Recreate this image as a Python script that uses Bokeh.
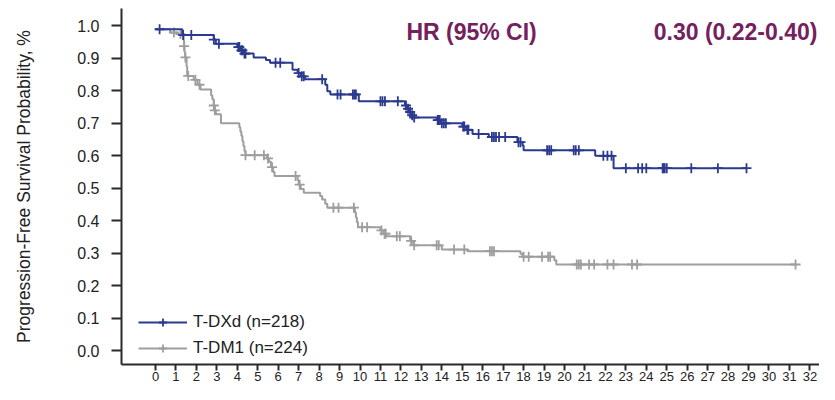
import numpy as np
from bokeh.plotting import figure
from bokeh.models import FixedTicker, NumeralTickFormatter, Label, Legend, LegendItem
from bokeh.embed import file_html
from bokeh.resources import INLINE

# ---------------- data ----------------
# T-DXd: step times (months) and survival level after each step
dxd_times = [0, 1.31, 2.85, 2.95, 4.0, 4.15, 4.3, 4.8, 5.4, 5.6, 6.7, 6.95, 7.1, 7.3,
             8.3, 8.4, 8.55, 9.94, 12.2, 12.3, 12.4, 12.5, 12.6, 13.75, 13.95, 15.0,
             15.2, 15.5, 16.3, 17.7, 17.95, 18.0, 21.5, 22.4]
dxd_surv = [0.99, 0.972, 0.958, 0.945, 0.935, 0.925, 0.915, 0.903, 0.895, 0.887, 0.865,
            0.855, 0.845, 0.836, 0.819, 0.799, 0.789, 0.768, 0.755, 0.745, 0.735, 0.725,
            0.718, 0.71, 0.70, 0.69, 0.68, 0.667, 0.658, 0.642, 0.632, 0.617, 0.600, 0.562]
dxd_censor = [0.2, 1.35, 1.75, 2.85, 3.1, 4.05, 4.1, 4.2, 4.25, 4.35, 4.4, 5.87, 6.1,
              7.0, 7.15, 7.25, 8.15, 8.9, 9.05, 9.65, 9.72, 9.8, 11.0, 11.1, 11.22, 11.85,
              12.25, 12.35, 12.45, 12.55, 12.65, 13.8, 13.85, 13.9, 14.0, 14.1, 14.2,
              15.05, 15.1, 15.25, 15.3, 15.8, 16.45, 16.55, 16.65, 16.8, 17.1, 17.75,
              17.85, 19.15, 19.25, 19.35, 20.45, 20.55, 20.7, 21.9, 22.1, 22.3, 23.0,
              23.6, 23.8, 24.0, 24.8, 24.85, 24.9, 25.0, 26.2, 27.5, 28.9]

# T-DM1
dm1_times = [0, 0.72, 1.05, 1.3, 1.38, 1.40, 1.42, 1.45, 1.52, 1.55, 1.87, 2.05, 2.2,
             2.72, 2.78, 2.85, 2.9, 2.95, 3.2, 4.1, 4.15, 4.2, 4.25, 4.3, 4.35, 4.4,
             5.45, 5.55, 5.65, 5.75, 5.82, 6.95, 7.0, 7.1, 7.25, 8.05, 8.15, 8.3, 8.4,
             9.75, 9.8, 9.85, 9.9, 11.0, 11.15, 11.3, 12.45, 12.6, 14.0, 15.25, 17.85,
             17.95, 19.5, 19.6]
dm1_surv = [0.99, 0.98, 0.975, 0.97, 0.955, 0.938, 0.92, 0.903, 0.875, 0.846, 0.834,
            0.819, 0.804, 0.786, 0.774, 0.755, 0.74, 0.728, 0.70, 0.688, 0.675, 0.662,
            0.645, 0.63, 0.615, 0.602, 0.592, 0.582, 0.565, 0.55, 0.538, 0.525, 0.511,
            0.498, 0.486, 0.476, 0.465, 0.452, 0.44, 0.425, 0.41, 0.395, 0.38, 0.37,
            0.36, 0.352, 0.338, 0.324, 0.311, 0.306, 0.298, 0.289, 0.278, 0.265]
dm1_censor = [0.9, 1.22, 1.40, 1.46, 1.6, 1.95, 2.15, 2.85, 2.9, 4.4, 4.85, 5.3, 5.5,
              5.7, 6.85, 7.05, 8.7, 8.95, 9.7, 10.1, 10.35, 11.05, 11.2, 11.25, 11.8,
              11.95, 12.5, 12.65, 13.75, 13.85, 14.6, 15.1, 16.35, 16.45, 16.55, 18.0,
              18.25, 18.9, 19.2, 19.3, 20.6, 20.7, 20.8, 21.2, 21.45, 22.1, 22.4, 23.3,
              23.55, 31.3]

x_ticks = list(range(0, 33))
y_ticks = [0.0, 0.1, 0.2, 0.3, 0.4, 0.5, 0.6, 0.7, 0.8, 0.9, 1.0]
series_labels = ["T-DXd (n=218)", "T-DM1 (n=224)"]
y_title = "Progression-Free Survival Probability, %"
hr_label = "HR (95% CI)"
hr_value = "0.30 (0.22-0.40)"

BLUE = "#2b3a8e"
GRAY = "#9e9e9e"
PURPLE = "#74215e"
AXIS = "#2a2a2a"
FONT = "Liberation Sans"


def km_line(times, surv, censor):
    xs = list(times) + [max(censor)]
    ys = list(surv) + [surv[-1]]
    idx = np.searchsorted(np.array(times), np.array(censor), side="right") - 1
    cy = [surv[i] for i in idx]
    return xs, ys, list(censor), cy


p = figure(width=819, height=384, output_backend="svg", toolbar_location=None,
           x_range=(-1.663, 32.47), y_range=(-0.0431, 1.0539),
           min_border_left=121, min_border_right=0, min_border_top=8,
           min_border_bottom=20)
p.outline_line_color = None
p.grid.visible = False
p.background_fill_color = "white"

# gray first, blue on top
gx, gy, gcx, gcy = km_line(dm1_times, dm1_surv, dm1_censor)
bx, by, bcx, bcy = km_line(dxd_times, dxd_surv, dxd_censor)

g_line = p.step(gx, gy, mode="after", line_color=GRAY, line_width=2)
g_cens = p.scatter(gcx, gcy, marker="cross", size=10,
                   line_color=GRAY, line_width=1.8)
b_line = p.step(bx, by, mode="after", line_color=BLUE, line_width=2)
b_cens = p.scatter(bcx, bcy, marker="cross", size=10,
                   line_color=BLUE, line_width=1.8)

# axes
p.xaxis.ticker = FixedTicker(ticks=x_ticks)
p.yaxis.ticker = FixedTicker(ticks=y_ticks)
p.yaxis.formatter = NumeralTickFormatter(format="0.0")
for ax in (p.xaxis, p.yaxis):
    ax.axis_line_color = AXIS
    ax.axis_line_width = 2
    ax.major_tick_line_color = AXIS
    ax.major_tick_line_width = 2
    ax.major_tick_in = 0
    ax.minor_tick_line_color = None
    ax.major_label_text_font = FONT
    ax.major_label_text_color = "#222222"
p.xaxis.major_tick_out = 6
p.xaxis.major_label_standoff = 1
p.xaxis.major_label_text_font_size = "13px"
p.yaxis.major_tick_out = 10
p.yaxis.major_label_standoff = 12
p.yaxis.major_label_text_font_size = "16px"
p.yaxis.axis_label = y_title
p.yaxis.axis_label_text_font = FONT
p.yaxis.axis_label_text_font_size = "17.5px"
p.yaxis.axis_label_text_font_style = "normal"
p.yaxis.axis_label_text_color = "#222222"
p.yaxis.axis_label_standoff = 40

# legend
legend = Legend(items=[LegendItem(label=series_labels[0], renderers=[b_line, b_cens]),
                       LegendItem(label=series_labels[1], renderers=[g_line, g_cens])],
                location=(17, 6), padding=0, margin=0, spacing=6,
                glyph_width=49, glyph_height=20, label_height=20, label_standoff=6,
                label_text_font=FONT, label_text_font_size="17px",
                label_text_color="#222222",
                border_line_alpha=0, background_fill_alpha=0)
p.add_layout(legend)

# header text
p.add_layout(Label(x=12.27, y=0.98, text=hr_label, text_font=FONT,
                   text_font_size="23px", text_font_style="bold",
                   text_color=PURPLE, text_baseline="middle", text_align="left"))
p.add_layout(Label(x=32.37, y=0.98, text=hr_value, text_font=FONT,
                   text_font_size="23px", text_font_style="bold",
                   text_color=PURPLE, text_baseline="middle", text_align="right"))

open("out.html", "w").write(file_html(p, INLINE))
